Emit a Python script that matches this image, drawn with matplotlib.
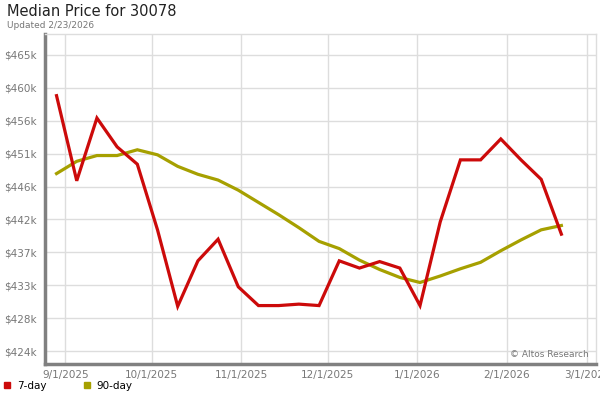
import matplotlib
matplotlib.use("Agg")
import matplotlib.pyplot as plt
from matplotlib.lines import Line2D
import pandas as pd

# weekly points
dates = pd.date_range("2025-08-29", periods=26, freq="7D")
day7 = [459.0, 447.2, 455.9, 451.9, 449.5, 440.4, 429.8, 436.1, 439.1, 432.5,
        429.9, 429.9, 430.1, 429.9, 436.1, 435.1, 436.0, 435.1, 429.9, 441.5,
        450.1, 450.1, 453.0, 450.1, 447.4, 439.8]
day90 = [448.2, 449.9, 450.7, 450.7, 451.5, 450.8, 449.2, 448.1, 447.3, 445.9,
         444.2, 442.5, 440.7, 438.8, 437.8, 436.2, 434.9, 433.8, 433.1, 434.0,
         435.0, 435.9, 437.5, 439.0, 440.4, 441.0]

ytick_vals = [423.6, 428.16, 432.72, 437.28, 441.84, 446.4, 450.96, 455.52, 460.08, 464.64]
ytick_labels = ["$424k", "$428k", "$433k", "$437k", "$442k", "$446k", "$451k", "$456k", "$460k", "$465k"]
xtick_dates = pd.to_datetime(["2025-09-01", "2025-10-01", "2025-11-01", "2025-12-01",
                              "2026-01-01", "2026-02-01", "2026-03-01"])
xtick_labels = ["9/1/2025", "10/1/2025", "11/1/2025", "12/1/2025", "1/1/2026", "2/1/2026", "3/1/2026"]

red = "#cc0a0a"
olive = "#a6a000"
gray = "#808080"

fig = plt.figure(figsize=(6, 4), dpi=100)
ax = fig.add_axes([45 / 600, 36 / 400, 551 / 600, 330 / 400])

ax.plot(dates, day90, color=olive, lw=2.3, solid_joinstyle="miter", zorder=3)
ax.plot(dates, day7, color=red, lw=2.3, solid_joinstyle="miter", zorder=4)

ax.set_ylim(421.8, 467.55)
ax.set_xlim(pd.Timestamp("2025-08-25"), pd.Timestamp("2026-03-04"))
ax.set_yticks(ytick_vals)
ax.set_yticklabels(ytick_labels)
ax.set_xticks(xtick_dates)
ax.set_xticklabels(xtick_labels)
ax.tick_params(length=0, labelsize=7.5, labelcolor="#777777")
ax.tick_params(axis="y", pad=6)
ax.tick_params(axis="x", pad=4)
ax.grid(True, color="#dddddd", lw=1)
ax.set_axisbelow(True)

for s in ["left", "bottom"]:
    ax.spines[s].set_color(gray)
    ax.spines[s].set_linewidth(2.5)
for s in ["top", "right"]:
    ax.spines[s].set_color("#dddddd")
    ax.spines[s].set_linewidth(1)

ax.text(0.987, 0.015, "\u00a9 Altos Research", transform=ax.transAxes,
        ha="right", va="bottom", fontsize=6.5, color="#777777")

fig.text(7 / 600, 1 - 12 / 400, "Median Price for 30078", fontsize=10.5,
         ha="left", va="center", color="#222222")
fig.text(7 / 600, 1 - 25 / 400, "Updated 2/23/2026", fontsize=6.5,
         ha="left", va="center", color="#777777")

handles = [Line2D([], [], ls="none", marker="s", ms=5, color=red),
           Line2D([], [], ls="none", marker="s", ms=5, color=olive)]
fig.legend(handles, ["7-day", "90-day"], loc="center left",
           bbox_to_anchor=(0, 14 / 400), ncol=2, frameon=False,
           fontsize=7.5, handletextpad=0.4, columnspacing=3.4,
           handlelength=1.0, borderaxespad=0, borderpad=0.2)

fig.savefig("out.png", dpi=100)
